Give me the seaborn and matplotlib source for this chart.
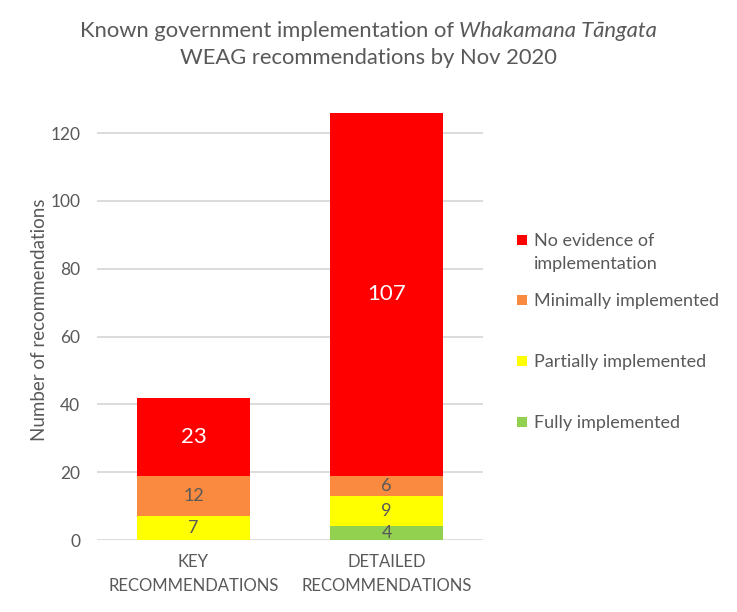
import matplotlib
matplotlib.use("Agg")
import matplotlib.pyplot as plt
import matplotlib.patches as mpatches
import numpy as np
import pandas as pd
import seaborn as sns

# data
categories = ["KEY\nRECOMMENDATIONS", "DETAILED\nRECOMMENDATIONS"]
statuses = ["Fully implemented", "Partially implemented", "Minimally implemented",
            "No evidence of\nimplementation"]
fully = [0, 4]
partially = [7, 9]
minimally = [12, 6]
no_evidence = [23, 107]
colours = ["#92D050", "#FFFF00", "#F98A3F", "#FF0000"]
yticks = [0, 20, 40, 60, 80, 100, 120]

sns.set_theme(style="white")
plt.rcParams['font.family'] = ['Lato', 'DejaVu Sans']
grey = "#595959"

df = pd.DataFrame({"category": categories, statuses[0]: fully, statuses[1]: partially,
                   statuses[2]: minimally, statuses[3]: no_evidence})

fig = plt.figure(figsize=(7.37, 6.12), dpi=100)
ax = fig.add_axes([0.1316, 0.1176, 0.5238, 0.7204])

bottom = np.zeros(len(categories))
for status, col in zip(statuses, colours):
    vals = df[status].to_numpy(dtype=float)
    sns.barplot(x=df["category"], y=vals, bottom=bottom, color=col, width=0.583,
                saturation=1, ax=ax, zorder=3, linewidth=0, edgecolor="none")
    for i, v in enumerate(vals):
        if v <= 0:
            continue
        big = v > 20
        ax.text(i, bottom[i] + v / 2, "{:d}".format(int(v)), ha="center", va="center",
                color="white" if big else grey, fontsize=16 if big else 13, zorder=4)
    bottom += vals

ax.set_ylim(0, 130)
ax.set_xlim(-0.5, 1.5)
ax.set_yticks(yticks)
ax.yaxis.grid(True, color="#D9D9D9", linewidth=1.3, zorder=0)
ax.set_axisbelow(True)
for s in ax.spines.values():
    s.set_visible(False)
ax.tick_params(axis="y", length=0, colors=grey, labelsize=12.5, pad=12)
ax.tick_params(axis="x", length=0, colors=grey, labelsize=12, pad=10)
for t in ax.get_xticklabels():
    t.set_linespacing(1.6)
ax.set_xlabel("")
ax.set_ylabel("Number of recommendations", color=grey, fontsize=13.5, labelpad=2)

# legend in Excel style, top entry first (pixel positions from the reference)
leg_y = [422, 361, 300, 240]
W, H = fig.bbox.width, fig.bbox.height
for status, col, y in zip(statuses, colours, leg_y):
    fig.patches.append(mpatches.Rectangle((517 / W, 1 - (y + 5) / H), 10 / W, 10 / H,
                                          facecolor=col, edgecolor="none",
                                          transform=fig.transFigure, figure=fig))
    fig.text(534 / W, 1 - (y - 7) / H, status, fontsize=13, color=grey, ha="left",
             va="top", linespacing=1.55)

# title with italic part, centred on the figure
fig.canvas.draw()
r = fig.canvas.get_renderer()
p1 = fig.text(0, 0.95, "Known government implementation of ", fontsize=15.8, color=grey,
              va="center", ha="left")
p2 = fig.text(0, 0.95, "Whakamana Tāngata", fontsize=15.8, color=grey, style="italic",
              va="center", ha="left")
w1 = p1.get_window_extent(r).width
w2 = p2.get_window_extent(r).width
x0 = (W - w1 - w2) / 2 / W
p1.set_x(x0)
p2.set_x(x0 + w1 / W)
fig.text(0.5, 0.905, "WEAG recommendations by Nov 2020", fontsize=15.8, color=grey,
         ha="center", va="center")

fig.savefig("out.png", dpi=100)
